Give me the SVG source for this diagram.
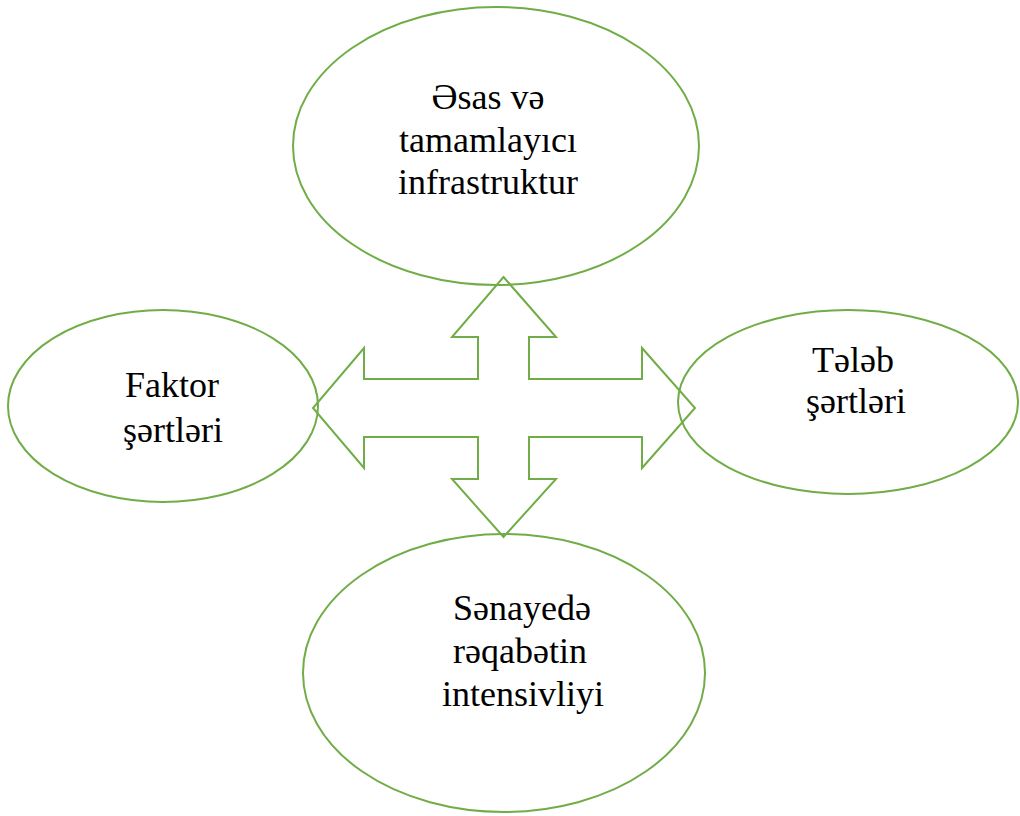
<svg xmlns="http://www.w3.org/2000/svg" width="1020" height="816" viewBox="0 0 1020 816">
  <style>
    .node { fill: none; stroke: #70AD47; stroke-width: 2; }
    .arrow { fill: none; stroke: #70AD47; stroke-width: 2; stroke-linejoin: miter; }
    .label { font-family: "Liberation Serif", "DejaVu Serif", serif; font-size: 36px; fill: #000; text-anchor: middle; }
  </style>
  <rect width="1020" height="816" fill="#ffffff"/>
  <g id="connectors">
    <polygon class="arrow" points="503.5,277 556,337 529,337 529,379 642,379 642,348 695,408 642,468 642,437 529,437 529,479 556,479 503.5,537 452,479 478,479 478,437 364,437 364,468 313,408 364,348 364,379 478,379 478,337 452,337"/>
  </g>
  <g id="node-top">
    <ellipse class="node" cx="496" cy="146" rx="203" ry="139"/>
    <text class="label" x="488" y="109">Əsas və</text>
    <text class="label" x="488" y="152">tamamlayıcı</text>
    <text class="label" x="488" y="194">infrastruktur</text>
  </g>
  <g id="node-left">
    <ellipse class="node" cx="163" cy="406" rx="155" ry="96"/>
    <text class="label" x="172" y="397">Faktor</text>
    <text class="label" x="173" y="442">şərtləri</text>
  </g>
  <g id="node-right">
    <ellipse class="node" cx="848" cy="402" rx="170" ry="92"/>
    <text class="label" x="853" y="372">Tələb</text>
    <text class="label" x="856" y="413">şərtləri</text>
  </g>
  <g id="node-bottom">
    <ellipse class="node" cx="504" cy="673" rx="201" ry="139"/>
    <text class="label" x="522" y="620">Sənayedə</text>
    <text class="label" x="520" y="663">rəqabətin</text>
    <text class="label" x="523" y="706">intensivliyi</text>
  </g>
</svg>
